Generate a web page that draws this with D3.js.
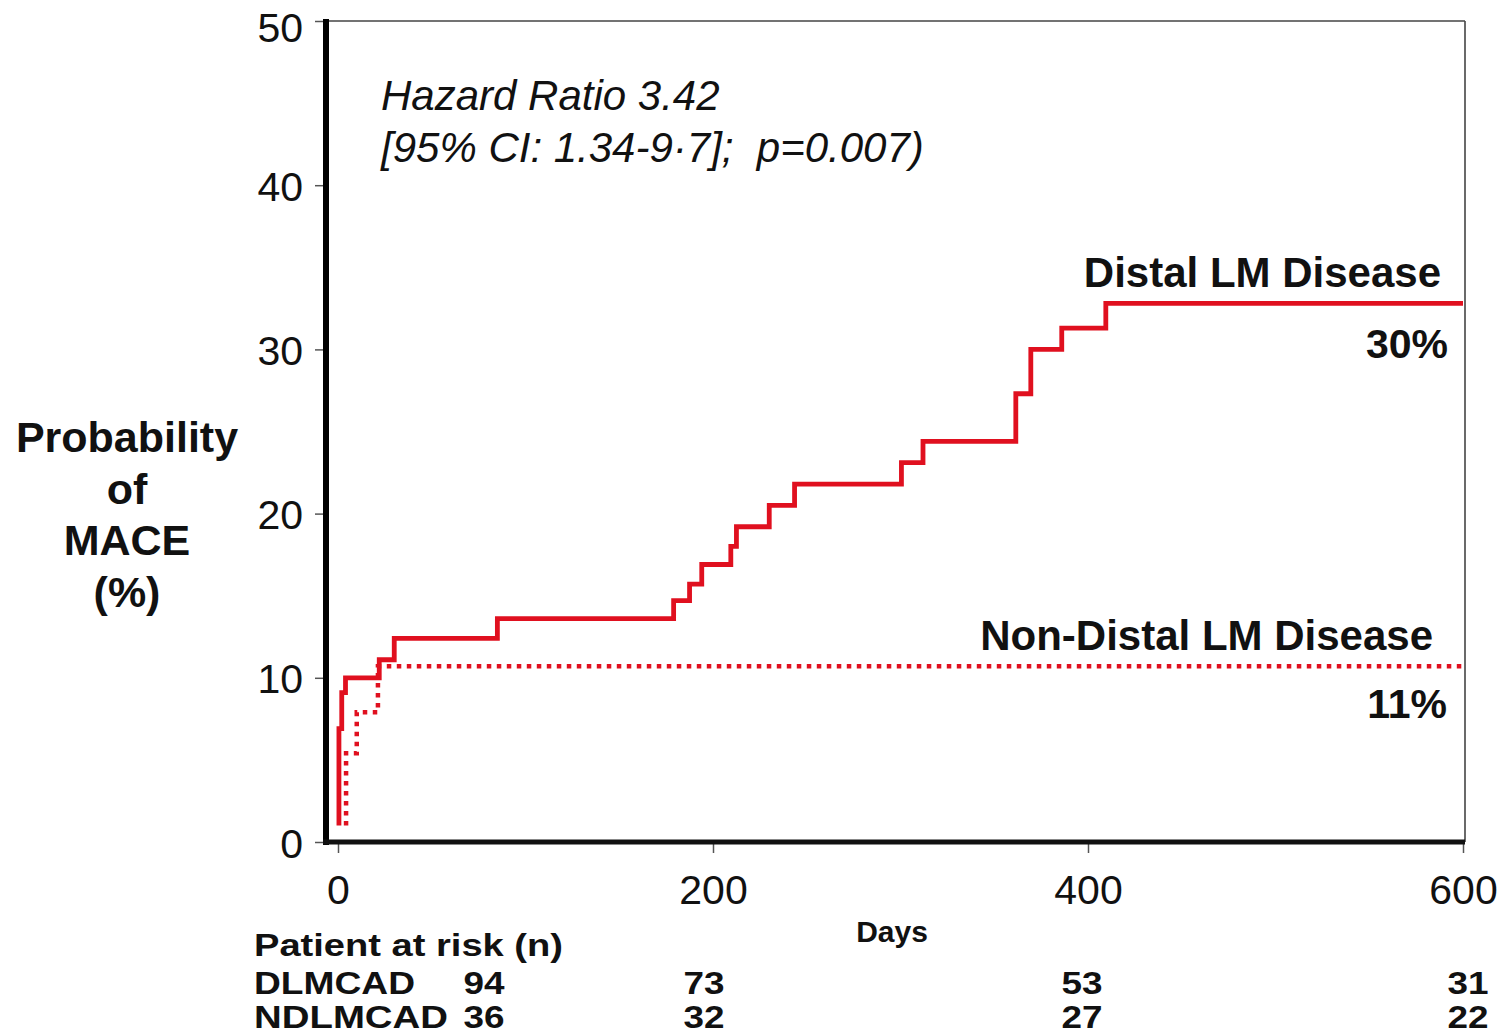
<!DOCTYPE html>
<html>
<head>
<meta charset="utf-8">
<script src="https://cdn.jsdelivr.net/npm/d3@7"></script>
<style>
  html, body { margin: 0; padding: 0; background: #fff; }
  svg { display: block; font-family: "Liberation Sans", Arial, sans-serif; }
  text { white-space: pre; }
</style>
</head>
<body>
<svg id="chart" width="1505" height="1035"></svg>
<script>
// ---------------- DATA ----------------
const xTicks = [0, 200, 400, 600];
const yTicks = [0, 10, 20, 30, 40, 50];

// Distal LM disease (solid) – Kaplan-Meier step points (day, cumulative %)
const distalDays   = [0.5, 0.5, 2, 4, 22, 30, 85, 179, 187.5, 194, 209.5, 212.5, 230, 243.5, 300.5, 312, 361.5, 369.5, 386, 409.5, 600];
const distalValues = [1.0, 6.9, 9.1, 10.0, 11.1, 12.4, 13.6, 14.7, 15.7, 16.9, 18.0, 19.2, 20.5, 21.8, 23.1, 24.4, 27.3, 30.0, 31.3, 32.8, 32.8];

// Non-distal LM disease (dotted)
const nonDistalDays   = [4.3, 4.3, 10, 21.3, 600];
const nonDistalValues = [1.0, 5.4, 7.9, 10.7, 10.7];

const seriesLabels = ["Distal LM Disease", "Non-Distal LM Disease"];
const seriesFinal  = ["30%", "11%"];

const riskGroups = ["DLMCAD", "NDLMCAD"];
const riskDays   = [0, 200, 400, 600];
const riskDistal    = [94, 73, 53, 31];
const riskNonDistal = [36, 32, 27, 22];

const hazardLines = ["Hazard Ratio 3.42", "[95% CI: 1.34-9\u00B77];  p=0.007)"];
const yTitleLines = ["Probability", "of", "MACE", "(%)"];

// ---------------- LAYOUT ----------------
const RED = "#e0101f";
const FONT = "Liberation Sans, Arial, sans-serif";
const svg = d3.select("#chart");
const plotLeft = 326, plotRight = 1465, plotTop = 21, plotBottom = 842;

const x = d3.scaleLinear().domain([0, 600]).range([338, 1463]);
const y = d3.scaleLinear().domain([0, 50]).range([plotBottom, plotTop]);

// Frame: thin top/right, thick left/bottom
svg.append("line").attr("x1", plotLeft).attr("x2", plotRight).attr("y1", plotTop).attr("y2", plotTop)
  .attr("stroke", "#444").attr("stroke-width", 1.6);
svg.append("line").attr("x1", plotRight).attr("x2", plotRight).attr("y1", plotTop).attr("y2", plotBottom)
  .attr("stroke", "#444").attr("stroke-width", 1.6);

// Y axis
const yAxis = svg.append("g").attr("transform", `translate(${plotLeft},0)`)
  .call(d3.axisLeft(y).tickValues(yTicks).tickSize(11).tickPadding(12).tickFormat(d3.format("d")));
yAxis.select(".domain").remove();
yAxis.selectAll(".tick line").attr("stroke", "#555").attr("stroke-width", 1.5);
yAxis.selectAll(".tick text").attr("font-size", 41).attr("fill", "#111")
  .attr("font-family", FONT)
  .attr("dy", d => d === 50 ? "0.5em" : "0.37em");

// X axis
const xAxis = svg.append("g").attr("transform", `translate(0,${plotBottom})`)
  .call(d3.axisBottom(x).tickValues(xTicks).tickSize(11).tickFormat(d3.format("d")));
xAxis.select(".domain").remove();
xAxis.selectAll(".tick line").attr("stroke", "#555").attr("stroke-width", 1.5);
xAxis.selectAll(".tick text").attr("font-size", 41).attr("fill", "#111")
  .attr("y", 62).attr("dy", null)
  .attr("font-family", FONT);

// thick axis lines
svg.append("line").attr("x1", plotLeft).attr("x2", plotLeft).attr("y1", plotTop - 2).attr("y2", plotBottom + 3)
  .attr("stroke", "#000").attr("stroke-width", 6);
svg.append("line").attr("x1", plotLeft - 3).attr("x2", plotRight).attr("y1", plotBottom).attr("y2", plotBottom)
  .attr("stroke", "#111").attr("stroke-width", 5);

// Curves
const line = d3.line().x(d => x(d[0])).y(d => y(d[1])).curve(d3.curveStepAfter);
const distalPts = distalDays.map((d, i) => [d, distalValues[i]]);
const nonPts = nonDistalDays.map((d, i) => [d, nonDistalValues[i]]);

svg.append("path").datum(nonPts).attr("d", line)
  .attr("fill", "none").attr("stroke", RED).attr("stroke-width", 4.5)
  .attr("stroke-dasharray", "4.5 5.5");
svg.append("path").datum(distalPts).attr("d", line)
  .attr("fill", "none").attr("stroke", RED).attr("stroke-width", 4.8)
  .attr("stroke-linejoin", "miter");

// Annotations
const hz = svg.append("g").attr("font-style", "italic").attr("font-size", 42).attr("fill", "#111");
hz.selectAll("text").data(hazardLines).join("text")
  .attr("x", 381).attr("y", (d, i) => 110 + i * 52).text(d => d);

const labelPos = [{x: 1441, y: 287, px: 1448, py: 358}, {x: 1433, y: 650, px: 1447, py: 718}];
seriesLabels.forEach((lab, i) => {
  svg.append("text").attr("x", labelPos[i].x).attr("y", labelPos[i].y)
    .attr("text-anchor", "end").attr("font-weight", "bold").attr("font-size", 42).attr("fill", "#111").text(lab);
  svg.append("text").attr("x", labelPos[i].px).attr("y", labelPos[i].py)
    .attr("text-anchor", "end").attr("font-weight", "bold").attr("font-size", 41).attr("fill", "#111").text(seriesFinal[i]);
});

// Y title
svg.append("g").attr("font-weight", "bold").attr("font-size", 43).attr("fill", "#111")
  .selectAll("text").data(yTitleLines).join("text")
  .attr("x", 127).attr("y", (d, i) => 452 + i * 51.5).attr("text-anchor", "middle").text(d => d);

// X title
svg.append("text").attr("x", 892).attr("y", 942).attr("text-anchor", "middle")
  .attr("font-weight", "bold").attr("font-size", 30).attr("fill", "#111").text("Days");

// Risk table
const risk = svg.append("g").attr("font-weight", "bold").attr("font-size", 32).attr("fill", "#111");
risk.append("text").attr("x", 254).attr("y", 956)
  .attr("textLength", 309).attr("lengthAdjust", "spacingAndGlyphs").text("Patient at risk (n)");
const rowY = [994, 1028];
const rowLabelLen = [161, 194];
const colOffset = [146, -9, -6, 5];
riskGroups.forEach((g, r) => {
  risk.append("text").attr("x", 254).attr("y", rowY[r])
    .attr("textLength", rowLabelLen[r]).attr("lengthAdjust", "spacingAndGlyphs").text(g);
  const vals = r === 0 ? riskDistal : riskNonDistal;
  vals.forEach((v, c) => {
    risk.append("text").attr("x", x(riskDays[c]) + colOffset[c]).attr("y", rowY[r])
      .attr("text-anchor", "middle").attr("textLength", 41).attr("lengthAdjust", "spacingAndGlyphs").text(v);
  });
});
</script>
</body>
</html>
